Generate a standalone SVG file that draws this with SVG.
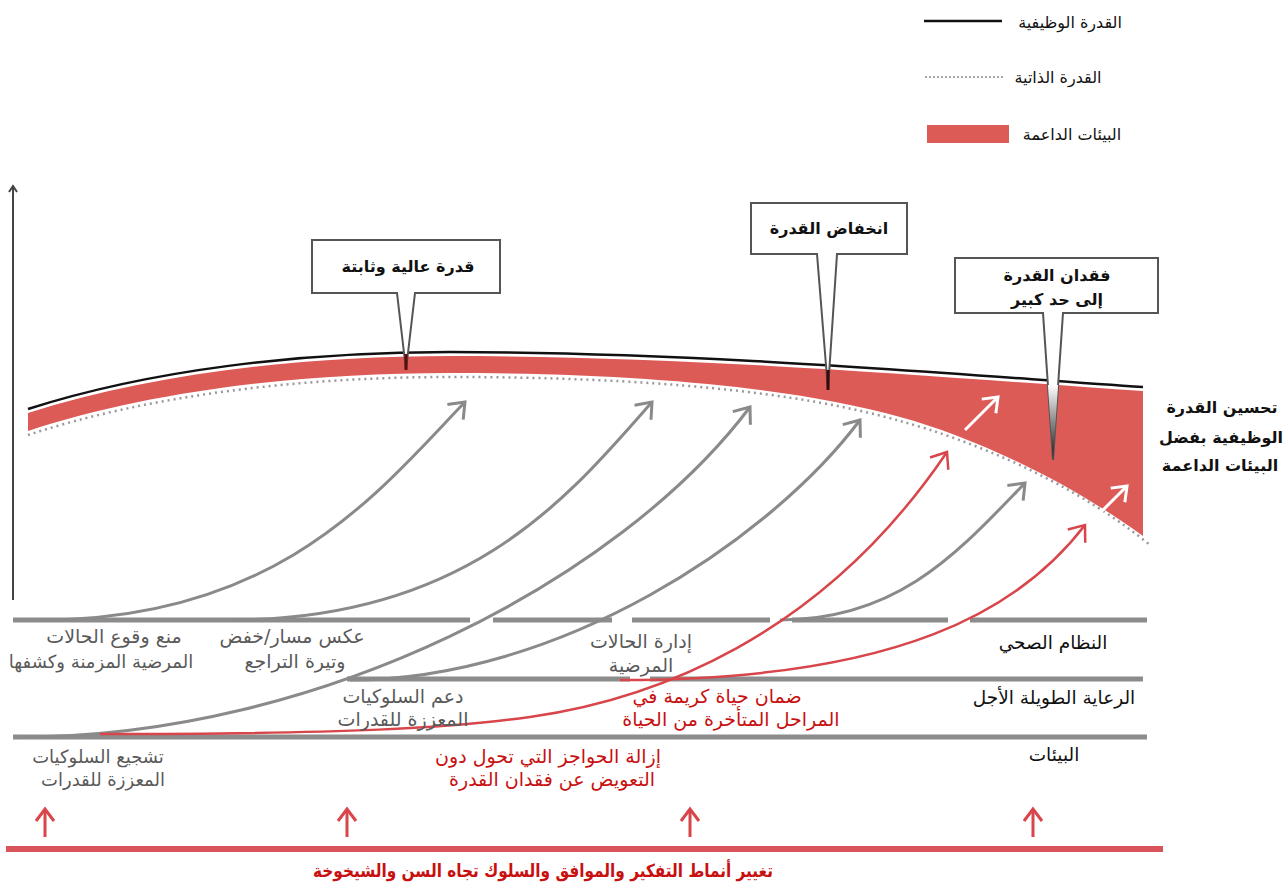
<svg xmlns="http://www.w3.org/2000/svg" width="1286" height="884" viewBox="0 0 1286 884">
<defs>
<style>
text{font-family:"DejaVu Sans",sans-serif;font-size:16px;text-anchor:middle}
.lbl{fill:#5a5a5a;font-size:19px}
.lblr{fill:#c81010;font-size:19px}
.dark{fill:#111}
.tier{fill:#111;font-size:18.5px}
.bold{font-weight:bold;fill:#111}
.hline{stroke:#8c8c8c;stroke-width:5;fill:none}
.gc{stroke:#8a8a8a;stroke-width:3;fill:none}
.rc{stroke:#d8454a;stroke-width:2.5;fill:none}
.box{fill:#fff;stroke:#555;stroke-width:2}
</style>
<marker id="ag" markerUnits="userSpaceOnUse" viewBox="-20 -12 24 24" markerWidth="24" markerHeight="24" refX="0" refY="0" orient="auto">
<path d="M-14,-11 L0,0 L-14,11" fill="none" stroke="#8a8a8a" stroke-width="3"/>
</marker>
<marker id="ar" markerUnits="userSpaceOnUse" viewBox="-20 -12 24 24" markerWidth="24" markerHeight="24" refX="0" refY="0" orient="auto">
<path d="M-14,-11 L0,0 L-14,11" fill="none" stroke="#d8454a" stroke-width="2.5"/>
</marker>
<marker id="aw" markerUnits="userSpaceOnUse" viewBox="-20 -12 24 24" markerWidth="24" markerHeight="24" refX="0" refY="0" orient="auto">
<path d="M-13,-10 L0,0 L-13,10" fill="none" stroke="#fff" stroke-width="3"/>
</marker>
<marker id="ab" markerUnits="userSpaceOnUse" viewBox="-20 -12 24 24" markerWidth="24" markerHeight="24" refX="0" refY="0" orient="auto">
<path d="M-12,-9 L0,0 L-12,9" fill="none" stroke="#d8454a" stroke-width="3"/>
</marker>
<marker id="ax" markerUnits="userSpaceOnUse" viewBox="-10 -6 12 12" markerWidth="12" markerHeight="12" refX="0" refY="0" orient="auto">
<path d="M-6,-4 L0,0 L-6,4" fill="none" stroke="#444" stroke-width="2"/>
</marker>
<linearGradient id="tipg" x1="0" y1="0" x2="0" y2="1">
<stop offset="0" stop-color="#fff"/>
<stop offset="1" stop-color="#111"/>
</linearGradient>
</defs>
<rect width="1286" height="884" fill="#fff"/>

<g id="legend">
<line x1="924" y1="21" x2="1002" y2="21" stroke="#111" stroke-width="2.5"/>
<text class="dark" x="1070" y="28">القدرة الوظيفية</text>
<line x1="925" y1="77" x2="1005" y2="77" stroke="#aaa" stroke-width="2" stroke-dasharray="2,2"/>
<text class="dark" x="1058" y="83">القدرة الذاتية</text>
<rect x="927" y="125" width="82" height="18" fill="#dd5b57"/>
<text class="dark" x="1072" y="140">البيئات الداعمة</text>
</g>

<g id="axis">
<line x1="13" y1="600" x2="13" y2="186" stroke="#444" stroke-width="2" marker-end="url(#ax)"/>
</g>

<g id="capacity">
<path d="M28,413 C150,374 300,356 450,356 C700,356 950,378 1143,391 L1143,536 C1065,479 970,436 900,417 C800,389 650,373 450,373 C300,373 150,391 28,431 Z" fill="#dd5b57"/>
<path d="M28,409 C150,370 300,352 450,352 C700,352 950,374 1143,387" fill="none" stroke="#111" stroke-width="2.5"/>
<path d="M28,435 C150,395 300,377 450,377 C650,377 800,392 900,421 C970,440 1070,480 1150,545" fill="none" stroke="#999" stroke-width="2.5" stroke-dasharray="2,4"/>
</g>

<g id="tiers">
<path class="hline" d="M13,620 H470 M493,620 H612 M632,620 H770 M792,620 H948 M970,620 H1147"/>
<path class="hline" d="M347,679 H630 M650,679 H1143"/>
<path class="hline" d="M13,737 H1147"/>
</g>

<g id="connectors">
<path class="gc" d="M40,620 C280,620 380,490 465,402" marker-end="url(#ag)"/>
<path class="gc" d="M230,620 C470,620 570,495 652,402" marker-end="url(#ag)"/>
<path class="gc" d="M20,737 C320,737 620,580 750,407" marker-end="url(#ag)"/>
<path class="gc" d="M350,680 C560,680 770,540 860,420" marker-end="url(#ag)"/>
<path class="gc" d="M780,620 C900,620 960,550 1025,483" marker-end="url(#ag)"/>
<path class="rc" d="M100,734 C350,734 450,728 530,717 C650,700 820,640 947,452" marker-end="url(#ar)"/>
<path class="rc" d="M620,680 C900,680 1020,610 1085,525" marker-end="url(#ar)"/>
<line x1="965" y1="430" x2="998" y2="397" stroke="#fff" stroke-width="3" marker-end="url(#aw)"/>
<line x1="1099" y1="514" x2="1127" y2="486" stroke="#fff" stroke-width="3" marker-end="url(#aw)"/>
</g>

<g id="callout-high">
<path class="box" d="M312,240 H500 V293 H415 L406,370 L397,293 H312 Z"/>
<line x1="406" y1="354" x2="406" y2="370" stroke="#5c0a0a" stroke-width="3"/>
<text class="bold" x="408" y="272">قدرة عالية وثابتة</text>
</g>
<g id="callout-decline">
<path class="box" d="M751,203 H907 V254 H837 L828,390 L817,254 H751 Z"/>
<line x1="828" y1="370" x2="828" y2="390" stroke="#3a0a0a" stroke-width="3"/>
<text class="bold" x="829" y="234">انخفاض القدرة</text>
</g>
<g id="callout-loss">
<path class="box" d="M955,258 H1158 V313 H1063 L1053,460 L1043,313 H955 Z"/>
<polygon points="1047.9,385 1058.1,385 1053,460" fill="url(#tipg)"/>
<text class="bold" x="1057" y="281">فقدان القدرة</text>
<text class="bold" x="1057" y="305">إلى حد كبير</text>
</g>

<g id="label-improve">
<text class="bold" x="1222" y="413">تحسين القدرة</text>
<text class="bold" x="1221" y="443">الوظيفية بفضل</text>
<text class="bold" x="1220" y="471">البيئات الداعمة</text>
</g>

<g id="label-prevent">
<text class="lbl" x="114" y="643">منع وقوع الحالات</text>
<text class="lbl" x="101" y="668" style="font-size:18px">المرضية المزمنة وكشفها</text>
</g>
<g id="label-reverse">
<text class="lbl" x="292" y="643">عكس مسار/خفض</text>
<text class="lbl" x="295" y="668">وتيرة التراجع</text>
</g>
<g id="label-support">
<text class="lbl" x="403" y="703">دعم السلوكيات</text>
<text class="lbl" x="403" y="726">المعززة للقدرات</text>
</g>
<g id="label-manage">
<text class="lbl" x="641" y="648">إدارة الحالات</text>
<text class="lbl" x="641" y="672">المرضية</text>
</g>
<g id="label-dignity">
<text class="lblr" x="717" y="703">ضمان حياة كريمة في</text>
<text class="lblr" x="731" y="726">المراحل المتأخرة من الحياة</text>
</g>
<g id="label-encourage">
<text class="lbl" x="98" y="763" style="font-size:18px">تشجيع السلوكيات</text>
<text class="lbl" x="103" y="786" style="font-size:18px">المعززة للقدرات</text>
</g>
<g id="label-barriers">
<text class="lblr" x="548" y="763">إزالة الحواجز التي تحول دون</text>
<text class="lblr" x="552" y="786">التعويض عن فقدان القدرة</text>
</g>
<g id="label-tiers">
<text class="tier" x="1053" y="649">النظام الصحي</text>
<text class="tier" x="1054" y="704">الرعاية الطويلة الأجل</text>
<text class="tier" x="1054" y="761">البيئات</text>
</g>

<g id="attitudes">
<line x1="6" y1="849" x2="1163" y2="849" stroke="#d8545a" stroke-width="6"/>
<line x1="45" y1="837" x2="45" y2="809" stroke="#d8454a" stroke-width="3" marker-end="url(#ab)"/>
<line x1="347" y1="837" x2="347" y2="809" stroke="#d8454a" stroke-width="3" marker-end="url(#ab)"/>
<line x1="690" y1="837" x2="690" y2="809" stroke="#d8454a" stroke-width="3" marker-end="url(#ab)"/>
<line x1="1033" y1="837" x2="1033" y2="809" stroke="#d8454a" stroke-width="3" marker-end="url(#ab)"/>
<text x="543" y="877" textLength="460" lengthAdjust="spacingAndGlyphs" style="fill:#c81010;font-weight:bold;font-size:18px">تغيير أنماط التفكير والموافق والسلوك تجاه السن والشيخوخة</text>
</g>
</svg>
